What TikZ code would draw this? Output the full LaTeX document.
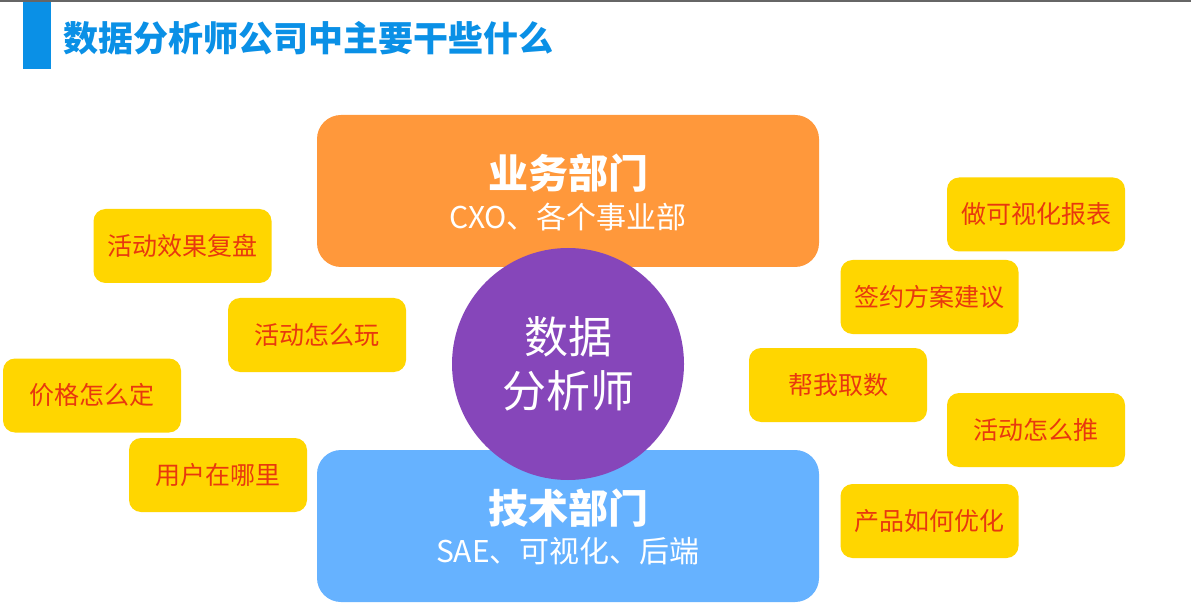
\documentclass[tikz,border=0pt]{standalone}
\usepackage{fontspec}
\setmainfont{Noto Sans CJK SC}
\usepackage{tikz}
\usetikzlibrary{positioning}
\usepackage{xcolor}

\definecolor{azultitulo}{HTML}{0A90E6}
\definecolor{naranja}{HTML}{FF983B}
\definecolor{celeste}{HTML}{66B2FF}
\definecolor{morado}{HTML}{8646BA}
\definecolor{amarillo}{HTML}{FFD600}
\definecolor{rojo}{HTML}{E8380E}

\begin{document}
\begin{tikzpicture}[x=1pt,y=-1pt,
        caja/.style={rectangle, rounded corners=12pt, fill=amarillo, text=rojo,
            minimum width=178pt, minimum height=74pt, inner sep=0pt,
            font=\fontsize{25}{28}\selectfont},
        depto/.style={rectangle, rounded corners=24pt, minimum width=502pt,
            minimum height=152pt, inner sep=0pt},
        jefe/.style={text=white, font=\bfseries\fontsize{40}{44}\selectfont, inner sep=0pt},
        sub/.style={text=white, font=\fontsize{30}{32}\selectfont, inner sep=0pt}]
        % Fondo y marco
        \useasboundingbox (0,0) rectangle (1191,612);
        \fill[white] (0,0) rectangle (1191,612);
        \fill[black!60] (0,0) rectangle (1191,2);

        % Titulo
        \fill[azultitulo] (23,2) rectangle (51,69);
        \node[anchor=west, text=azultitulo, inner sep=0pt,
            font=\bfseries\fontsize{35}{38}\selectfont] (titulo) at (63,38) {数据分析师公司中主要干些什么};

        % Departamentos
        \node[depto, fill=naranja] (negocio) at (568,191) {};
        \node[depto, fill=celeste] (tecnico) at (568,526) {};

        % Analista en el centro
        \node[circle, fill=morado, minimum size=232pt, inner sep=0pt, text=white,
            align=center, font=\fontsize{44}{54}\selectfont] (analista) at (568,364) {数据\\分析师};

        % Textos de los departamentos
        \node[jefe] (negocio-t) at (568,173) {业务部门};
        \node[sub] (negocio-s) at (568,217) {CXO、各个事业部};
        \node[jefe] (tecnico-t) at (568,508) {技术部门};
        \node[sub] (tecnico-s) at (568,551) {SAE、可视化、后端};

        % Tareas (izquierda y derecha)
        \foreach \n/\x/\y/\t in {a/182.5/246/活动效果复盘, b/317/335/活动怎么玩,
                c/92/395.5/价格怎么定, d/218/475/用户在哪里,
                e/1036/214.5/做可视化报表, f/929.5/297/签约方案建议,
                g/838/385/帮我取数, h/1036/430/活动怎么推, i/929.5/521/产品如何优化}
            \node[caja] (tarea-\n) at (\x,\y) {\t};
    \end{tikzpicture}
\end{document}
